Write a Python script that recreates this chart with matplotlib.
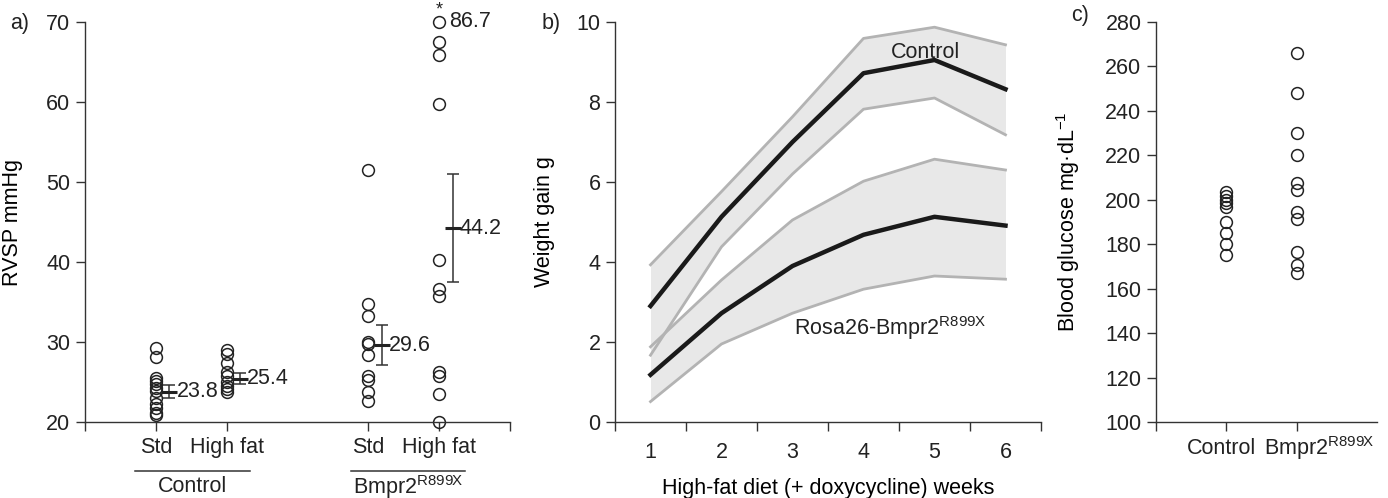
import matplotlib
matplotlib.use("Agg")
import matplotlib.pyplot as plt
import numpy as np

plt.rcParams['font.family'] = ['Liberation Sans', 'DejaVu Sans']
plt.rcParams['mathtext.fontset'] = 'custom'
plt.rcParams['mathtext.rm'] = 'Liberation Sans'
plt.rcParams['mathtext.default'] = 'regular'
plt.rcParams['font.size'] = 15.5
plt.rcParams['text.color'] = '#222222'
plt.rcParams['axes.edgecolor'] = '#333333'
plt.rcParams['xtick.color'] = '#333333'
plt.rcParams['ytick.color'] = '#333333'
plt.rcParams['xtick.labelcolor'] = '#222222'
plt.rcParams['ytick.labelcolor'] = '#222222'

SUP = 'Bmpr2$^{R899X}$'

# panel a: RVSP (mmHg)
a_pos = [1, 2, 4, 5]
a_ctrl_std = [29.2, 28.1, 25.5, 25.1, 24.7, 24.3, 23.9, 23.0, 22.3, 21.7, 21.1, 20.9]
a_ctrl_hf = [29.0, 28.5, 27.4, 26.3, 25.7, 25.0, 24.5, 24.1, 23.8]
a_mut_std = [51.5, 34.75, 33.25, 30.0, 29.75, 28.4, 25.7, 25.3, 23.8, 22.6]
a_mut_hf = [70.0, 67.5, 65.9, 59.8, 40.3, 36.6, 35.7, 26.2, 25.7, 23.5, 20.0]
a_means = [23.8, 25.4, 29.6, 44.2]
a_sem = [0.8, 0.7, 2.5, 6.75]

# panel b: weight gain (g)
weeks = [1, 2, 3, 4, 5, 6]
ctrl_mean = [2.9, 5.13, 7.0, 8.72, 9.05, 8.32]
ctrl_hi = [3.93, 5.76, 7.63, 9.59, 9.87, 9.43]
ctrl_lo = [1.67, 4.38, 6.2, 7.82, 8.1, 7.18]
rosa_mean = [1.18, 2.72, 3.9, 4.68, 5.13, 4.91]
rosa_hi = [1.88, 3.55, 5.05, 6.02, 6.57, 6.3]
rosa_lo = [0.51, 1.95, 2.72, 3.32, 3.65, 3.57]

# panel c: blood glucose
c_ctrl = [203.6, 201.7, 199.9, 198.4, 196.9, 190.1, 184.9, 180.1, 175.2]
c_mut = [266.2, 247.9, 230.2, 220.15, 207.4, 204.4, 194.6, 191.2, 176.6, 170.6, 166.9]

fig = plt.figure(figsize=(13.88, 4.98), dpi=100)
bot, hgt = 76 / 498, 400 / 498
ax1 = fig.add_axes([85 / 1388, bot, 425 / 1388, hgt])
ax2 = fig.add_axes([615 / 1388, bot, 426 / 1388, hgt])
ax3 = fig.add_axes([1156 / 1388, bot, 221 / 1388, hgt])

for ax in (ax1, ax2, ax3):
    for s in ('top', 'right'):
        ax.spines[s].set_visible(False)
    ax.spines['left'].set_linewidth(1.0)
    ax.spines['bottom'].set_linewidth(1.0)
    ax.tick_params(direction='out', length=6.5, width=1.0, pad=4, labelsize=15.5)

circ = dict(ls='none', marker='o', ms=8.5, mfc='none', mec='#222222', mew=1.1, clip_on=False)

# ---- a ----
for p, vals in zip(a_pos, [a_ctrl_std, a_ctrl_hf, a_mut_std, a_mut_hf]):
    ax1.plot([p] * len(vals), vals, **circ)
for p, m, e in zip(a_pos, a_means, a_sem):
    x = p + 0.19
    ax1.errorbar(x, m, yerr=e, fmt='none', ecolor='#333333', elinewidth=1.1,
                 capsize=4, capthick=1.1)
    ax1.plot(x, m, marker='_', ms=11, mew=2.2, color='#222222')
    ax1.text(p + 0.29, m, f'{m:.1f}', ha='left', va='center')
ax1.text(5, 70.5, '*', ha='center', va='bottom', fontsize=13)
ax1.text(5.14, 70, '86.7', ha='left', va='center')
ax1.set_xlim(0, 6)
ax1.set_ylim(20, 70)
ax1.set_yticks(np.arange(20, 71, 10))
ax1.set_xticks([0, 1, 2, 4, 5, 6])
ax1.set_xticklabels(['', 'Std', 'High fat', 'Std', 'High fat', ''])
ax1.set_ylabel('RVSP mmHg')
ax1.yaxis.set_label_coords(-0.146, 0.5)
for x0, x1, lab in [(0.71, 2.33, 'Control'), (3.76, 5.37, SUP)]:
    ax1.plot([x0, x1], [-0.1225, -0.1225], color='#333333', lw=1.1,
             transform=ax1.get_xaxis_transform(), clip_on=False)
    ax1.text((x0 + x1) / 2, -0.162, lab, ha='center', va='center',
             transform=ax1.get_xaxis_transform())

# ---- b ----
band = '#e8e8e8'
edge = '#b3b3b3'
for m, hi, lo in [(ctrl_mean, ctrl_hi, ctrl_lo), (rosa_mean, rosa_hi, rosa_lo)]:
    ax2.fill_between(weeks, lo, hi, color=band, lw=0)
for m, hi, lo in [(ctrl_mean, ctrl_hi, ctrl_lo), (rosa_mean, rosa_hi, rosa_lo)]:
    ax2.plot(weeks, hi, color=edge, lw=2)
    ax2.plot(weeks, lo, color=edge, lw=2)
for m in (ctrl_mean, rosa_mean):
    ax2.plot(weeks, m, color='#1a1a1a', lw=3.2)
ax2.text(4.87, 9.25, 'Control', ha='center', va='center')
ax2.text(4.37, 2.35, 'Rosa26-' + SUP, ha='center', va='center')
ax2.set_xlim(0.5, 6.5)
ax2.set_ylim(0, 10)
ax2.set_yticks(np.arange(0, 11, 2))
ax2.set_xticks(np.arange(0.5, 6.6, 1))
ax2.set_xticklabels([])
ax2.set_xticks(weeks, minor=True)
ax2.set_xticklabels([str(w) for w in weeks], minor=True)
ax2.tick_params(axis='x', which='minor', length=0, pad=14.5)
ax2.set_xlabel('High-fat diet (+ doxycycline) weeks')
ax2.xaxis.set_label_coords(0.5, -0.14)
ax2.set_ylabel('Weight gain g')
ax2.yaxis.set_label_coords(-0.141, 0.5)

# ---- c ----
ax3.plot([1] * len(c_ctrl), c_ctrl, **circ)
ax3.plot([2] * len(c_mut), c_mut, **circ)
ax3.set_xlim(0, 3.14)
ax3.set_ylim(100, 280)
ax3.set_yticks(np.arange(100, 281, 20))
ax3.set_xticks([0, 1, 2])
ax3.set_xticklabels([])
xt = ax3.get_xaxis_transform()
ax3.text(0.93, -0.065, 'Control', ha='center', va='center', transform=xt)
ax3.text(1.53, -0.065, SUP, ha='left', va='center', transform=xt)
ax3.set_ylabel('Blood glucose mg·dL$^{-1}$')
ax3.yaxis.set_label_coords(-0.335, 0.5)

fig.text(10 / 1388, 1 - 24 / 498, 'a)', ha='left', va='center')
fig.text(542 / 1388, 1 - 23 / 498, 'b)', ha='left', va='center')
fig.text(1071 / 1388, 1 - 15 / 498, 'c)', ha='left', va='center')

fig.savefig('out.png', dpi=100)
